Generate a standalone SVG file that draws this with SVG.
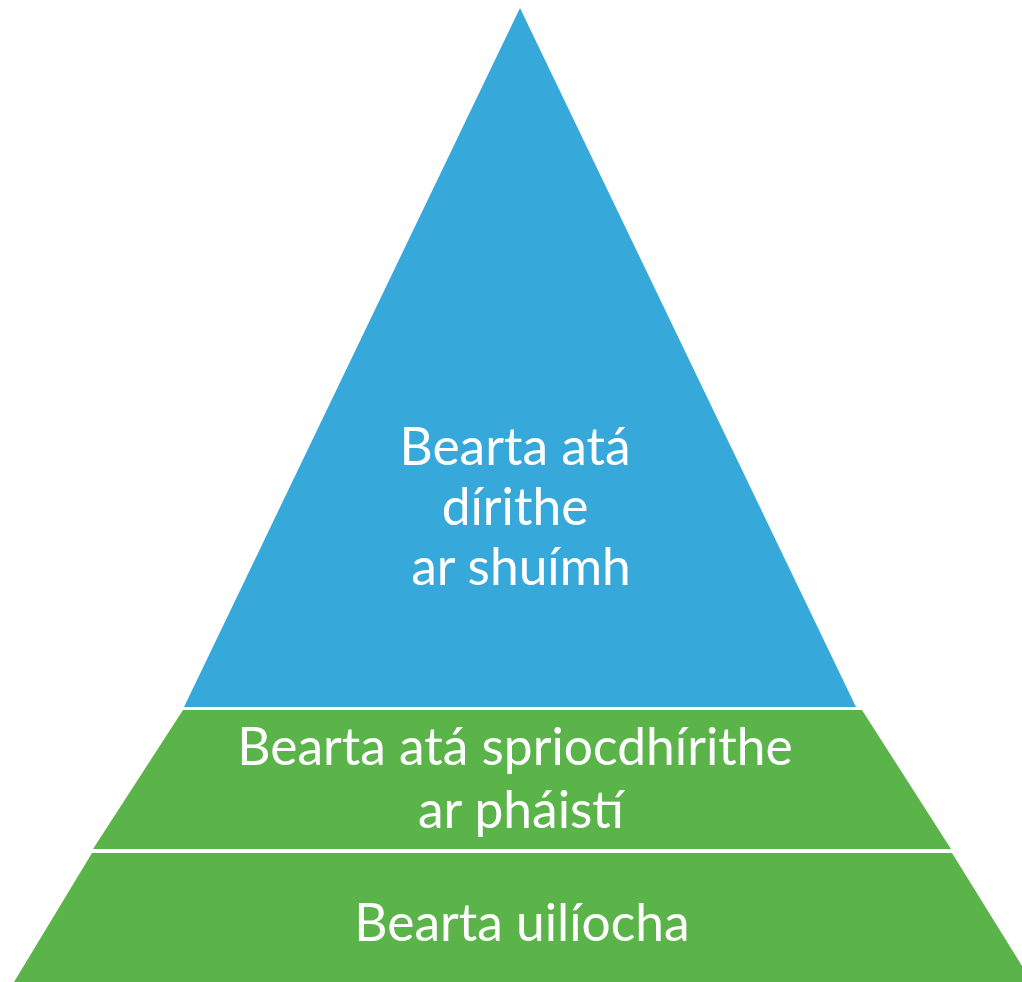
<svg xmlns="http://www.w3.org/2000/svg" width="1022" height="982" viewBox="0 0 1022 982">
<style>
.blue{fill:#36A8DA}
.green{fill:#5BB449}
.lbl{font-family:Lato,"Open Sans","Liberation Sans",sans-serif;font-size:51.5px;fill:#FFFFFF;text-anchor:middle}
</style>
<rect width="1022" height="982" fill="#FFFFFF"/>
<g id="top">
<polygon class="blue" points="520,8 856,707 184,707"/>
<text class="lbl" x="515" y="465">Bearta atá</text>
<text class="lbl" x="515" y="525">dírithe</text>
<text class="lbl" x="521" y="585">ar shuímh</text>
</g>
<g id="middle">
<polygon class="green" points="183,710 862,710 951,849 93,849"/>
<text class="lbl" x="515" y="765">Bearta atá spriocdhírithe</text>
<text class="lbl" x="521" y="828">ar pháistí</text>
</g>
<g id="bottom">
<polygon class="green" points="92,853 952,853 1032,982 14,982"/>
<text class="lbl" x="522" y="941">Bearta uilíocha</text>
</g>
<g id="connectors"/>
</svg>
